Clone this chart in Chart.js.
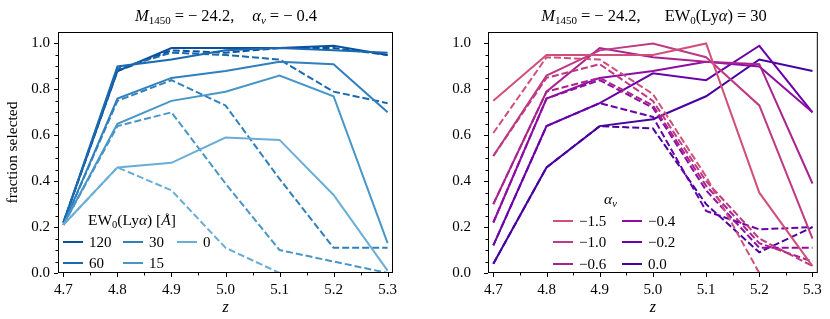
<!DOCTYPE html>
<html>
<head>
<meta charset="utf-8">
<script src="https://cdn.jsdelivr.net/npm/chart.js@4.4.0/dist/chart.umd.min.js"></script>
<style>
  body { margin: 0; background: #fff; width: 830px; height: 319px; overflow: hidden; position: relative;
         font-family: "Liberation Serif", "DejaVu Serif", serif; color: #000; }
  .box { position: absolute; top: 0; height: 319px; }
  .ttl { position: absolute; top: 6px; font-size: 16.5px; white-space: nowrap; transform: translateX(-50%); }
  .ttl sub { font-size: 11px; vertical-align: -3px; }
  .sp { display: inline-block; width: 4px; }
  .gap { display: inline-block; width: 18px; }
  .item { position: absolute; height: 16px; line-height: 16px; font-size: 15px; display: flex; align-items: center; white-space: nowrap; }
  .swatch { display: inline-block; width: 20px; height: 0; border-top: 2px solid; margin-right: 6px; }
  .legtitle { position: absolute; font-size: 15.5px; white-space: nowrap; line-height: 16px; }
  .legtitle sub { font-size: 10.5px; vertical-align: -3px; }
</style>
</head>
<body>
<div class="box" style="left:0;width:415px"><canvas id="left" width="415" height="319"></canvas></div>
<div class="box" style="left:415px;width:415px"><canvas id="right" width="415" height="319"></canvas></div>

<div class="ttl" style="left:226px"><i>M</i><sub>1450</sub><span class="sp"></span>=<span class="sp"></span>−<span class="sp"></span>24.2,<span class="gap"></span><i>α<sub>ν</sub></i><span class="sp"></span>=<span class="sp"></span>−<span class="sp"></span>0.4</div>
<div class="ttl" style="left:654px"><i>M</i><sub>1450</sub><span class="sp"></span>=<span class="sp"></span>−<span class="sp"></span>24.2,<span class="gap" style="width:24px"></span>EW<sub>0</sub>(Ly<i>α</i>)<span class="sp"></span>=<span class="sp"></span>30</div>
<div class="legtitle" style="left:88px;top:212px">EW<sub>0</sub>(Ly<i>α</i>) [<i>Å</i>]</div>
<div class="legtitle" style="left:604px;top:191px"><i>α<sub>ν</sub></i></div>
<div id="legends"></div>

<script>
// shared axes
const zValues = [4.7, 4.8, 4.9, 5.0, 5.1, 5.2, 5.3];
const xTickValues = [4.7, 4.8, 4.9, 5.0, 5.1, 5.2, 5.3];
const yTickValues = [0.0, 0.2, 0.4, 0.6, 0.8, 1.0];

// left panel: alpha_nu = -0.4, one colour per EW0(Lya)
const ewLabels = ['120', '60', '30', '15', '0'];
const ewColors = ['#08519c', '#1b69af', '#3080bd', '#4896c8', '#6aaed6'];
const ew120Solid  = [0.22, 0.88, 0.98, 0.98, 0.98, 0.99, 0.95];
const ew120Dashed = [0.22, 0.88, 0.97, 0.96, 0.98, 0.98, 0.95];
const ew60Solid   = [0.22, 0.90, 0.93, 0.97, 0.98, 0.97, 0.96];
const ew60Dashed  = [0.22, 0.89, 0.96, 0.95, 0.93, 0.79, 0.74];
const ew30Solid   = [0.21, 0.76, 0.85, 0.88, 0.92, 0.91, 0.70];
const ew30Dashed  = [0.21, 0.75, 0.84, 0.73, 0.41, 0.11, 0.11];
const ew15Solid   = [0.21, 0.65, 0.75, 0.79, 0.86, 0.77, 0.13];
const ew15Dashed  = [0.21, 0.64, 0.70, 0.39, 0.10, 0.05, 0.00];
const ew0Solid    = [0.21, 0.46, 0.48, 0.59, 0.58, 0.34, 0.01];
const ew0Dashed   = [0.21, 0.46, 0.36, 0.11, 0.00, 0.00, 0.00];

// right panel: EW0(Lya) = 30, one colour per alpha_nu
const alphaLabels = ['−1.5', '−1.0', '−0.6', '−0.4', '−0.2', '0.0'];
const alphaColors = ['#d0507a', '#bf3984', '#a9238f', '#8f0da4', '#6a00a8', '#46039f'];
const aM15Solid  = [0.75, 0.95, 0.95, 0.95, 1.00, 0.35, 0.03];
const aM15Dashed = [0.61, 0.94, 0.93, 0.78, 0.42, 0.00, 0.00];
const aM10Solid  = [0.51, 0.86, 0.97, 1.00, 0.94, 0.73, 0.15];
const aM10Dashed = [0.51, 0.85, 0.91, 0.75, 0.40, 0.15, 0.03];
const aM06Solid  = [0.30, 0.79, 0.98, 0.94, 0.92, 0.91, 0.39];
const aM06Dashed = [0.30, 0.79, 0.85, 0.73, 0.38, 0.13, 0.05];
const aM04Solid  = [0.22, 0.76, 0.85, 0.88, 0.92, 0.90, 0.70];
const aM04Dashed = [0.22, 0.76, 0.84, 0.72, 0.36, 0.11, 0.11];
const aM02Solid  = [0.12, 0.64, 0.74, 0.87, 0.84, 0.99, 0.70];
const aM02Dashed = [0.12, 0.64, 0.74, 0.68, 0.27, 0.19, 0.20];
const a00Solid   = [0.04, 0.46, 0.64, 0.67, 0.77, 0.93, 0.88];
const a00Dashed  = [0.04, 0.46, 0.64, 0.63, 0.30, 0.09, 0.20];

const serif = '"Liberation Serif", "DejaVu Serif", serif';

function line(values, color, dashed) {
  return {
    data: values.map((v, i) => ({x: zValues[i], y: v})),
    borderColor: color,
    borderWidth: 2,
    borderDash: dashed ? [7, 3] : [],
    pointRadius: 0,
    tension: 0,
    fill: false
  };
}

// frame + tick marks (major and minor) like matplotlib
const axesFrame = {
  id: 'axesFrame',
  afterDatasetsDraw(chart) {
    const {ctx, chartArea: a} = chart;
    const xs = chart.scales.x, ys = chart.scales.y;
    ctx.save();
    ctx.strokeStyle = '#000';
    ctx.lineWidth = 1;
    ctx.strokeRect(a.left + 0.5, a.top + 0.5, a.right - a.left - 1, a.bottom - a.top - 1);
    ctx.beginPath();
    xTickValues.forEach(v => {
      const p = Math.round(xs.getPixelForValue(v)) + 0.5;
      ctx.moveTo(p, a.bottom); ctx.lineTo(p, a.bottom + 4);
    });
    for (let k = 0; k < 6; k++) {
      const p = Math.round(xs.getPixelForValue(4.75 + k * 0.1)) + 0.5;
      ctx.moveTo(p, a.bottom); ctx.lineTo(p, a.bottom + 2.5);
    }
    yTickValues.forEach(v => {
      const p = Math.round(ys.getPixelForValue(v)) + 0.5;
      ctx.moveTo(a.left, p); ctx.lineTo(a.left - 4, p);
    });
    for (let k = 1; k < 21; k++) {
      if (k % 4 === 0) continue;
      const p = Math.round(ys.getPixelForValue(k * 0.05)) + 0.5;
      ctx.moveTo(a.left, p); ctx.lineTo(a.left - 2.5, p);
    }
    ctx.stroke();
    ctx.restore();
  }
};

function panel(id, datasets, yWidth, yPad, rightPad, yTitle) {
  new Chart(document.getElementById(id), {
    type: 'line',
    data: {datasets: datasets},
    options: {
      responsive: false,
      animation: false,
      devicePixelRatio: 1,
      layout: {padding: {top: 32, right: rightPad, left: 0, bottom: 0}},
      plugins: {legend: {display: false}, title: {display: false}, tooltip: {enabled: false}},
      scales: {
        x: {
          type: 'linear', min: 4.69, max: 5.31,
          grid: {display: false, drawTicks: false},
          border: {display: false},
          ticks: {color: '#000', font: {family: serif, size: 15}, padding: 8, autoSkip: false, maxRotation: 0,
                  callback: v => v.toFixed(1)},
          afterBuildTicks: s => { s.ticks = xTickValues.map(v => ({value: v})); },
          afterFit: s => { s.height = 46; },
          title: {display: true, text: 'z', color: '#000', font: {family: serif, size: 16, style: 'italic'},
                  padding: {top: 0, bottom: 2}}
        },
        y: {
          type: 'linear', min: 0, max: 1.05,
          grid: {display: false, drawTicks: false},
          border: {display: false},
          ticks: {color: '#000', font: {family: serif, size: 15}, padding: yPad, callback: v => v.toFixed(1)},
          afterBuildTicks: s => { s.ticks = yTickValues.map(v => ({value: v})); },
          afterFit: s => { s.width = yWidth; },
          title: {display: !!yTitle, text: yTitle || '', color: '#000', font: {family: serif, size: 15.5},
                  padding: {top: 4, bottom: 0}}
        }
      }
    },
    plugins: [axesFrame]
  });
}

panel('left', [
  line(ew0Solid, ewColors[4], false), line(ew0Dashed, ewColors[4], true),
  line(ew15Solid, ewColors[3], false), line(ew15Dashed, ewColors[3], true),
  line(ew30Solid, ewColors[2], false), line(ew30Dashed, ewColors[2], true),
  line(ew60Solid, ewColors[1], false), line(ew60Dashed, ewColors[1], true),
  line(ew120Solid, ewColors[0], false), line(ew120Dashed, ewColors[0], true)
], 58, 8, 22, 'fraction selected');

panel('right', [
  line(aM15Solid, alphaColors[0], false), line(aM15Dashed, alphaColors[0], true),
  line(aM10Solid, alphaColors[1], false), line(aM10Dashed, alphaColors[1], true),
  line(aM06Solid, alphaColors[2], false), line(aM06Dashed, alphaColors[2], true),
  line(aM04Solid, alphaColors[3], false), line(aM04Dashed, alphaColors[3], true),
  line(aM02Solid, alphaColors[4], false), line(aM02Dashed, alphaColors[4], true),
  line(a00Solid, alphaColors[5], false), line(a00Dashed, alphaColors[5], true)
], 73, 17, 8, '');

// legends (column-major, like matplotlib ncol)
function legend(labels, colors, colX, rowY, nRows) {
  const host = document.getElementById('legends');
  labels.forEach((lab, i) => {
    const el = document.createElement('div');
    el.className = 'item';
    el.style.left = colX[Math.floor(i / nRows)] + 'px';
    el.style.top = (rowY[i % nRows] - 8) + 'px';
    el.innerHTML = '<span class="swatch" style="border-color:' + colors[i] + '"></span><span>' + lab + '</span>';
    host.appendChild(el);
  });
}
legend(ewLabels, ewColors, [63, 123, 177], [242, 263], 2);
legend(alphaLabels, alphaColors, [553, 622], [221, 242, 264], 3);
</script>
</body>
</html>
